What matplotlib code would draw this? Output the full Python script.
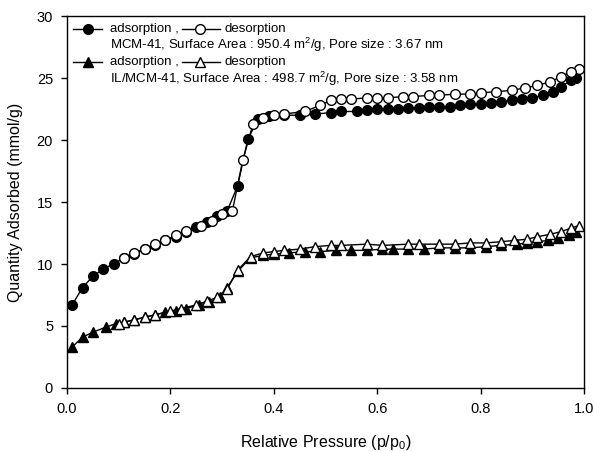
import matplotlib
matplotlib.use('Agg')
import matplotlib.pyplot as plt
from matplotlib.lines import Line2D

plt.rcParams['font.family'] = ['Liberation Sans', 'DejaVu Sans']
plt.rcParams['mathtext.fontset'] = 'custom'
plt.rcParams['mathtext.rm'] = 'Liberation Sans'
plt.rcParams['mathtext.it'] = 'Liberation Sans:italic'

# MCM-41 adsorption (filled circles)
x_ads1 = [0.01, 0.03, 0.05, 0.07, 0.09, 0.11, 0.13, 0.15, 0.17, 0.19, 0.21, 0.23, 0.25, 0.27,
          0.29, 0.31, 0.33, 0.35, 0.37, 0.39, 0.42, 0.45, 0.48, 0.51, 0.53, 0.56, 0.58, 0.60,
          0.62, 0.64, 0.66, 0.68, 0.70, 0.72, 0.74, 0.76, 0.78, 0.80, 0.82, 0.84, 0.86, 0.88,
          0.90, 0.92, 0.94, 0.955, 0.975, 0.985]
y_ads1 = [6.7, 8.1, 9.0, 9.6, 10.0, 10.5, 10.8, 11.2, 11.5, 11.9, 12.2, 12.6, 13.0, 13.4,
          13.9, 14.3, 16.3, 20.1, 21.7, 21.9, 22.0, 22.0, 22.1, 22.2, 22.3, 22.3, 22.4, 22.5,
          22.5, 22.5, 22.6, 22.6, 22.7, 22.7, 22.7, 22.8, 22.9, 22.9, 23.0, 23.1, 23.2, 23.3,
          23.4, 23.6, 23.9, 24.3, 24.8, 25.0]

# MCM-41 desorption (open circles)
x_des1 = [0.99, 0.975, 0.955, 0.935, 0.91, 0.885, 0.86, 0.83, 0.80, 0.78, 0.75, 0.72, 0.70,
          0.67, 0.65, 0.62, 0.60, 0.58, 0.55, 0.53, 0.51, 0.49, 0.46, 0.42, 0.40, 0.38, 0.36,
          0.34, 0.32, 0.30, 0.28, 0.26, 0.23, 0.21, 0.19, 0.17, 0.15, 0.13, 0.11]
y_des1 = [25.7, 25.5, 25.1, 24.7, 24.4, 24.2, 24.0, 23.9, 23.8, 23.7, 23.7, 23.6, 23.6,
          23.5, 23.5, 23.4, 23.4, 23.4, 23.3, 23.3, 23.2, 22.8, 22.3, 22.1, 22.0, 21.8, 21.3,
          18.4, 14.3, 14.0, 13.5, 13.1, 12.7, 12.3, 11.9, 11.6, 11.2, 10.9, 10.5]

# IL/MCM-41 adsorption (filled triangles)
x_ads2 = [0.01, 0.03, 0.05, 0.075, 0.095, 0.11, 0.13, 0.15, 0.17, 0.19, 0.21, 0.23, 0.255,
          0.275, 0.295, 0.31, 0.33, 0.355, 0.38, 0.40, 0.43, 0.46, 0.49, 0.52, 0.55, 0.58,
          0.61, 0.63, 0.66, 0.69, 0.72, 0.75, 0.78, 0.81, 0.84, 0.87, 0.89, 0.91, 0.93, 0.95,
          0.97, 0.985]
y_ads2 = [3.3, 4.1, 4.5, 4.9, 5.2, 5.3, 5.5, 5.7, 5.9, 6.1, 6.2, 6.4, 6.7,
          6.9, 7.3, 8.1, 9.4, 10.5, 10.7, 10.8, 10.9, 11.0, 11.0, 11.1, 11.1, 11.1,
          11.2, 11.2, 11.2, 11.2, 11.3, 11.3, 11.3, 11.4, 11.5, 11.6, 11.7, 11.8, 11.9, 12.1,
          12.3, 12.6]

# IL/MCM-41 desorption (open triangles)
x_des2 = [0.99, 0.975, 0.955, 0.935, 0.91, 0.89, 0.865, 0.84, 0.81, 0.78, 0.75, 0.72, 0.68,
          0.66, 0.61, 0.58, 0.53, 0.51, 0.48, 0.45, 0.42, 0.40, 0.38, 0.355, 0.33, 0.31,
          0.29, 0.27, 0.25, 0.22, 0.20, 0.17, 0.15, 0.13, 0.11, 0.10]
y_des2 = [13.1, 12.9, 12.6, 12.4, 12.2, 12.0, 11.9, 11.8, 11.7, 11.7, 11.6, 11.6, 11.6,
          11.6, 11.5, 11.6, 11.5, 11.5, 11.4, 11.2, 11.1, 11.0, 10.9, 10.6, 9.5, 8.0,
          7.3, 7.0, 6.7, 6.4, 6.2, 5.9, 5.7, 5.5, 5.3, 5.2]

fig = plt.figure(figsize=(5.94, 4.51), dpi=100)
ax = fig.add_axes([0.1128, 0.1397, 0.8704, 0.8248])

ms = 7
kw = dict(color='black', lw=1, markeredgecolor='black', markeredgewidth=1, ms=ms)
ax.plot(x_ads1, y_ads1, marker='o', markerfacecolor='black', **kw)
ax.plot(x_des1, y_des1, marker='o', markerfacecolor='white', **kw)
ax.plot(x_ads2, y_ads2, marker='^', markerfacecolor='black', **kw)
ax.plot(x_des2, y_des2, marker='^', markerfacecolor='white', **kw)

ax.set_xlim(0, 1.0)
ax.set_ylim(0, 30)
ax.set_xticks([0.0, 0.2, 0.4, 0.6, 0.8, 1.0])
ax.set_xticklabels(['0.0', '0.2', '0.4', '0.6', '0.8', '1.0'])
ax.set_yticks([0, 5, 10, 15, 20, 25, 30])
ax.tick_params(direction='out', length=4, width=1, labelsize=10.5, pad=6)
for s in ax.spines.values():
    s.set_linewidth(1)

ax.set_xlabel(r'Relative Pressure (p/p$_\mathrm{0}$)', fontsize=11.5, labelpad=12)
ax.set_ylabel('Quantity Adsorbed (mmol/g)', fontsize=11.5, labelpad=10)

# custom legend
fs = 9.55
rows = [0.965, 0.922, 0.876, 0.831]
for y, mk in [(rows[0], 'o'), (rows[2], '^')]:
    ax.add_line(Line2D([0.0116, 0.0677], [y, y], transform=ax.transAxes, color='black', lw=1))
    ax.add_line(Line2D([0.041], [y], transform=ax.transAxes, marker=mk, color='black',
                       markerfacecolor='black', ms=ms, markeredgewidth=1))
    ax.text(0.083, y, 'adsorption ,', transform=ax.transAxes, fontsize=fs, va='center')
    ax.add_line(Line2D([0.222, 0.296], [y, y], transform=ax.transAxes, color='black', lw=1))
    ax.add_line(Line2D([0.257], [y], transform=ax.transAxes, marker=mk, color='black',
                       markerfacecolor='white', ms=ms, markeredgewidth=1))
    ax.text(0.304, y, 'desorption', transform=ax.transAxes, fontsize=fs, va='center')

ax.text(0.083, rows[1], 'MCM-41, Surface Area : 950.4 m$^2$/g, Pore size : 3.67 nm',
        transform=ax.transAxes, fontsize=fs, va='center')
ax.text(0.083, rows[3], 'IL/MCM-41, Surface Area : 498.7 m$^2$/g, Pore size : 3.58 nm',
        transform=ax.transAxes, fontsize=fs, va='center')

fig.savefig('out.png', dpi=100)
